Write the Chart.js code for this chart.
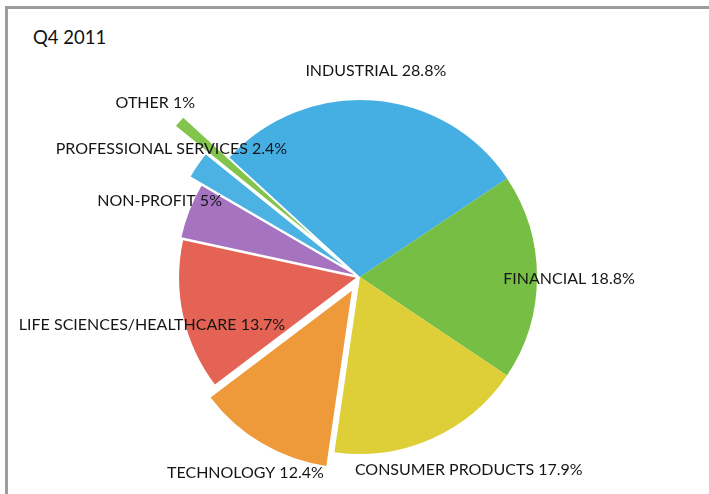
<!DOCTYPE html>
<html>
<head>
<meta charset="utf-8">
<script src="https://cdn.jsdelivr.net/npm/chart.js@4/dist/chart.umd.min.js"></script>
<style>
  html, body { margin: 0; padding: 0; background: #fff; }
  .frame {
    position: relative;
    width: 709px;
    height: 494px;
    overflow: hidden;
  }
  .frame::before {
    content: '';
    position: absolute;
    left: 5px;
    top: 6px;
    right: -10px;
    bottom: -10px;
    border-top: 3px solid #9c9c9c;
    border-left: 3px solid #9c9c9c;
  }
  .title {
    position: absolute;
    left: 33px;
    top: 26px;
    font-family: Lato, 'Open Sans', sans-serif;
    font-size: 18.5px;
    color: #111;
  }
  canvas { position: absolute; left: 0; top: 0; }
</style>
</head>
<body>
<div class="frame">
  <div class="title">Q4 2011</div>
  <canvas id="sectorChart" width="709" height="494"></canvas>
</div>
<script>
const sectors = [
  'INDUSTRIAL',
  'FINANCIAL',
  'CONSUMER PRODUCTS',
  'TECHNOLOGY',
  'LIFE SCIENCES/HEALTHCARE',
  'NON-PROFIT',
  'PROFESSIONAL SERVICES',
  'OTHER',
];
const shares = [28.8, 18.8, 17.9, 12.4, 13.7, 5, 2.4, 1];

const sliceColors = ['#45aee3', '#77be45', '#decf38', '#ee9a3a', '#e56355', '#a673c1', '#4cb2e4', '#82c44c'];
// pixels each wedge is pulled out of the pie
const slicePull = [0, 0, 0, 16, 4, 6, 20, 61];
// sideways nudge so the bottom labels don't collide
const labelNudgeX = [0, 0, 24, 0, 0, 0, 0, 0];

// Chart.js' own `offset` also grows and narrows the wedge, so the
// arcs are drawn here with a plain translate along the mid angle.
const pulledSlices = {
  id: 'pulledSlices',
  beforeDatasetDraw(chart, args) {
    const { ctx } = chart;
    args.meta.data.forEach((arc, i) => {
      const mid = (arc.startAngle + arc.endAngle) / 2;
      const pull = slicePull[i] || 0;
      ctx.save();
      ctx.translate(Math.cos(mid) * pull, Math.sin(mid) * pull);
      arc.draw(ctx, chart.chartArea);
      ctx.restore();
    });
    return false;
  },
};

const sliceLabels = {
  id: 'sliceLabels',
  afterDatasetsDraw(chart) {
    const { ctx } = chart;
    const meta = chart.getDatasetMeta(0);
    ctx.save();
    ctx.font = '16px Lato, "Open Sans", sans-serif';
    ctx.fillStyle = '#151515';
    ctx.textAlign = 'center';
    ctx.textBaseline = 'middle';
    meta.data.forEach((arc, i) => {
      const mid = (arc.startAngle + arc.endAngle) / 2;
      const dist = arc.outerRadius + slicePull[i] + 32;
      const x = arc.x + Math.cos(mid) * dist + labelNudgeX[i];
      const y = arc.y + Math.sin(mid) * dist + 2;
      ctx.fillText(`${sectors[i]} ${shares[i]}%`, x, y);
    });
    ctx.restore();
  },
};

new Chart(document.getElementById('sectorChart'), {
  type: 'pie',
  data: {
    labels: sectors,
    datasets: [
      {
        data: shares,
        backgroundColor: sliceColors,
        borderWidth: 0,
        hoverOffset: 0,
      },
    ],
  },
  options: {
    responsive: false,
    animation: false,
    rotation: -47.5,
    radius: 177,
    layout: { padding: { left: 11, top: 60, right: 0, bottom: 0 } },
    plugins: {
      legend: { display: false },
      tooltip: { enabled: false },
    },
  },
  plugins: [pulledSlices, sliceLabels],
});
</script>
</body>
</html>
